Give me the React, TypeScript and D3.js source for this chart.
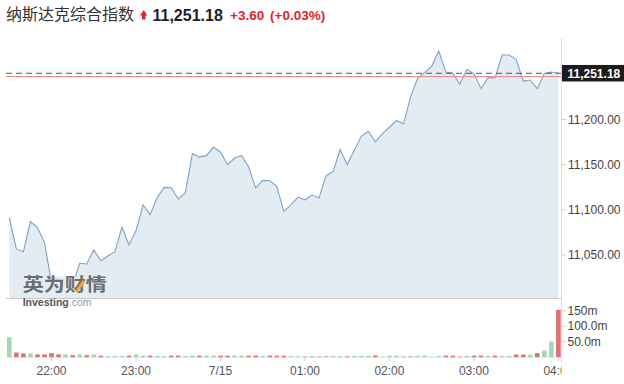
import React from "react";
import * as d3 from "d3";

const TITLE = "纳斯达克综合指数";
const LAST_PRICE = 11251.18;
const PREV_CLOSE = 11247.58;
const CHANGE = "+3.60";
const CHANGE_PCT = "(+0.03%)";

const START = new Date(2020, 6, 14, 21, 30);
const STEP_MIN = 5;

const PRICES = [
  11091.4, 11056.7, 11053.7, 11087.0, 11080.3, 11063.7, 11019.0, 11015.5, 11019.0, 11016.5,
  11040.8, 11040.0, 11055.6, 11043.7, 11048.9, 11053.7, 11080.8, 11061.1, 11077.0, 11105.6,
  11094.4, 11113.7, 11124.8, 11124.4, 11112.2, 11118.6, 11162.2, 11158.6, 11160.0, 11169.2,
  11164.1, 11150.0, 11157.4, 11160.0, 11147.4, 11124.1, 11132.6, 11132.2, 11125.9, 11098.1,
  11105.6, 11114.1, 11111.1, 11116.3, 11113.3, 11137.8, 11142.6, 11166.7, 11150.0, 11165.9,
  11181.4, 11187.0, 11175.2, 11184.4, 11191.4, 11198.9, 11195.2, 11225.0, 11245.6, 11252.2,
  11258.9, 11275.9, 11252.6, 11251.3, 11239.2, 11255.6, 11250.6, 11234.1, 11246.3, 11246.0,
  11271.4, 11271.4, 11266.7, 11242.6, 11243.7, 11234.1, 11251.0, 11252.5, 11251.18,
];

const VOLUMES = [
  64, 15, 12, 12, 9, 9, 13, 9, 9, 6.5,
  9, 6.5, 9, 5, 4, 4, 4, 5, 8.6, 5,
  5, 4, 4, 5, 5, 4, 5, 5, 5, 5,
  5, 5, 5, 5, 5, 5, 4, 5, 5, 5,
  4, 3, 2, 4, 2, 4, 4, 4, 3, 4,
  4, 4, 5.4, 2, 5, 5, 2, 4, 5, 5,
  2, 4, 5, 5, 2, 4, 5, 5, 4, 5,
  4, 4, 8.6, 8.6, 8.6, 13, 21.5, 50.5, 152.7,
];

const Y_TICKS = [11050, 11100, 11150, 11200];
const VOL_TICKS = [50, 100, 150];
const VOL_TICK_LABELS = ["50.0m", "100.0m", "150m"];
const X_TICK_LABELS = ["22:00", "23:00", "7/15", "01:00", "02:00", "03:00", "04:00"];

const FONT = "'Liberation Sans', Arial, sans-serif";
const CJK = "'Noto Sans CJK SC', sans-serif";

export default function App() {
  const W = 624;
  const H = 384;
  const times = PRICES.map((_, i) => new Date(START.getTime() + i * STEP_MIN * 60000));
  const x = d3.scaleTime().domain([times[0], times[times.length - 1]]).range([9.3, 558.4]);
  const y = d3.scaleLinear().domain([11050, 11200]).range([255, 119.5]);
  const yv = d3.scaleLinear().domain([0, 150]).range([357.2, 310.7]);
  const baseY = 298.5;
  const axisX = 561.5;
  const plotLeft = 6;
  const fillColor = "#e3ebf3";

  const area = d3
    .area<number>()
    .x((_, i) => x(times[i]))
    .y0(baseY)
    .y1((d) => y(d));
  const line = d3
    .line<number>()
    .x((_, i) => x(times[i]))
    .y((d) => y(d));

  const hourTicks = d3.timeHour.range(
    d3.timeHour.ceil(times[0]),
    new Date(times[times.length - 1].getTime() + 1)
  );
  const fmt = d3.format(",.2f");

  return (
    <svg
      width={W}
      height={H}
      style={{ position: "absolute", left: 0, top: 0, background: "#fff" }}
    >
      <defs>
        <clipPath id="xclip">
          <rect x={0} y={358} width={axisX} height={26} />
        </clipPath>
      </defs>

      {/* header */}
      <text x={6} y={20} fontFamily={CJK} fontSize={16} fill="#333">
        {TITLE}
      </text>
      <path
        d="M140,15.6 L143.7,10 L147.4,15.6 L145.5,15.6 L145.5,19.4 L141.9,19.4 L141.9,15.6 Z"
        fill="#e0262b"
      />
      <text x={152.5} y={20.5} fontFamily={FONT} fontSize={16} fontWeight="bold" fill="#222">
        {fmt(LAST_PRICE)}
      </text>
      <text x={230} y={20} fontFamily={FONT} fontSize={13.5} fontWeight="bold" fill="#e0262b">
        {CHANGE}
      </text>
      <text x={270} y={20} fontFamily={FONT} fontSize={13.5} fontWeight="bold" fill="#e0262b">
        {CHANGE_PCT}
      </text>

      {/* price area */}
      <path d={area(PRICES) || ""} fill={fillColor} />
      <path d={line(PRICES) || ""} fill="none" stroke="#7ba4c9" strokeWidth={1.1} />

      {/* watermark (sits on top of the series) */}
      <rect x={21} y={276.5} width={87} height={21.5} fill={fillColor} />
      <text
        x={22.7}
        y={290.5}
        fontFamily={CJK}
        fontSize={18}
        fontWeight="bold"
        fill="#6e6e6e"
        textLength={84}
        lengthAdjust="spacingAndGlyphs"
      >
        英为财情
      </text>
      <line x1={76} y1={292} x2={84} y2={281} stroke="#f0a535" strokeWidth={3} />

      {/* baseline */}
      <line x1={plotLeft} x2={axisX} y1={baseY} y2={baseY} stroke="#c8c8c8" strokeWidth={1} />

      <text x={22.7} y={305.5} fontFamily={FONT} fontSize={10.5}>
        <tspan fontWeight="bold" fill="#555">
          Investing
        </tspan>
        <tspan fill="#999">.com</tspan>
      </text>

      {/* previous close & last price lines */}
      <line
        x1={plotLeft}
        x2={axisX}
        y1={y(PREV_CLOSE)}
        y2={y(PREV_CLOSE)}
        stroke="#f08a8a"
        strokeWidth={1}
      />
      <line
        x1={plotLeft}
        x2={axisX}
        y1={y(LAST_PRICE)}
        y2={y(LAST_PRICE)}
        stroke="#555"
        strokeWidth={1}
        strokeDasharray="6,4"
      />

      {/* right axis */}
      <line x1={axisX} x2={axisX} y1={38} y2={362} stroke="#dcdcdc" strokeWidth={1} />
      {Y_TICKS.map((t) => (
        <g key={t}>
          <line x1={axisX} x2={axisX + 4} y1={y(t)} y2={y(t)} stroke="#ccc" />
          <text
            x={568}
            y={y(t)}
            dy="0.35em"
            fontFamily={FONT}
            fontSize={12}
            fill="#444"
          >
            {fmt(t)}
          </text>
        </g>
      ))}

      {/* last price tag */}
      <rect x={562} y={y(LAST_PRICE) - 8.3} width={62} height={16.5} fill="#1c1c1c" />
      <text
        x={567.5}
        y={y(LAST_PRICE)}
        dy="0.36em"
        fontFamily={FONT}
        fontSize={12}
        fontWeight="bold"
        fill="#fff"
      >
        {fmt(LAST_PRICE)}
      </text>

      {/* volume */}
      <line x1={plotLeft} x2={axisX} y1={357.5} y2={357.5} stroke="#ececec" strokeWidth={1} />
      {VOLUMES.map((v, i) => {
        const up = i === 0 ? true : PRICES[i] >= PRICES[i - 1];
        const top = yv(v);
        return (
          <rect
            key={i}
            x={x(times[i]) - 2.3}
            y={top}
            width={4.6}
            height={yv(0) - top}
            fill={up ? "#a2d6b4" : "#e07070"}
          />
        );
      })}
      {VOL_TICKS.map((t, i) => (
        <g key={t}>
          <line x1={axisX} x2={axisX + 4} y1={yv(t)} y2={yv(t)} stroke="#ccc" />
          <text
            x={567.5}
            y={yv(t)}
            dy="0.35em"
            fontFamily={FONT}
            fontSize={12}
            fill="#444"
          >
            {VOL_TICK_LABELS[i]}
          </text>
        </g>
      ))}

      {/* x axis */}
      <g clipPath="url(#xclip)">
        {hourTicks.map((t, i) => (
          <g key={i}>
            <line x1={x(t)} x2={x(t)} y1={357.5} y2={361} stroke="#ccc" />
            <text
              x={x(t)}
              y={375}
              textAnchor="middle"
              fontFamily={FONT}
              fontSize={12}
              fill="#555"
            >
              {X_TICK_LABELS[i]}
            </text>
          </g>
        ))}
      </g>
    </svg>
  );
}
